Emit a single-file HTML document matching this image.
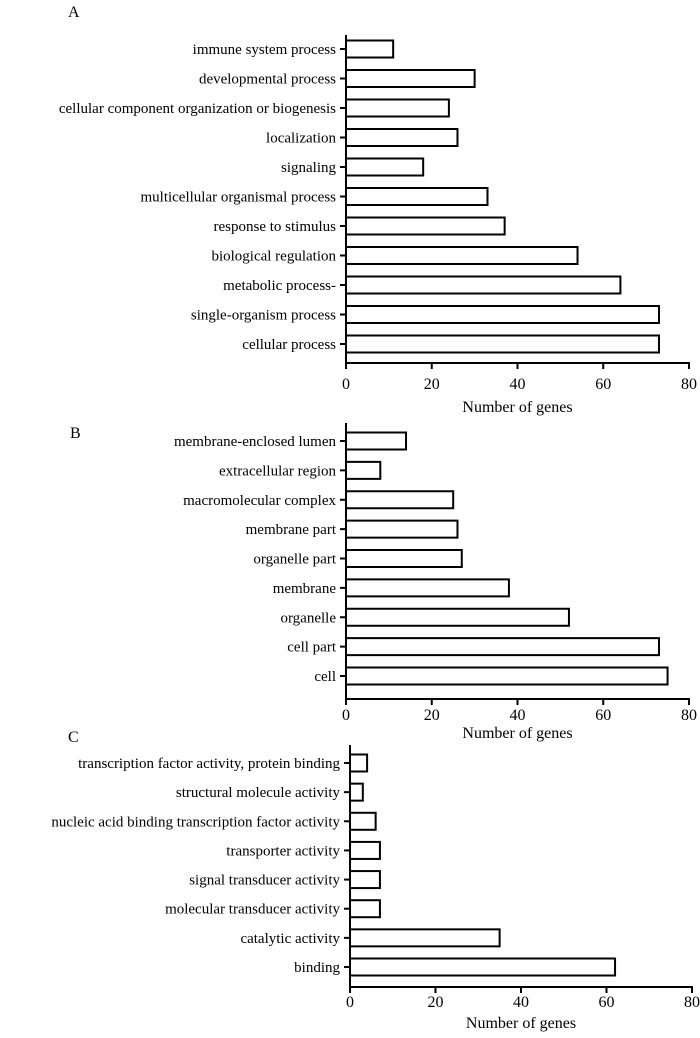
<!DOCTYPE html>
<html><head><meta charset="utf-8"><style>
html,body{margin:0;padding:0;background:#fff;}
svg text{font-family:"Liberation Serif",serif;fill:#000;}
</style></head><body>
<svg id="c" width="700" height="1033" viewBox="0 0 700 1033" xmlns="http://www.w3.org/2000/svg"></svg>
<script>
const catsA=["immune system process","developmental process","cellular component organization or biogenesis","localization","signaling","multicellular organismal process","response to stimulus","biological regulation","metabolic process-","single-organism process","cellular process"];
const valsA=[11,30,24,26,18,33,37,54,64,73,73];
const catsB=["membrane-enclosed lumen","extracellular region","macromolecular complex","membrane part","organelle part","membrane","organelle","cell part","cell"];
const valsB=[14,8,25,26,27,38,52,73,75];
const catsC=["transcription factor activity, protein binding","structural molecule activity","nucleic acid binding transcription factor activity","transporter activity","signal transducer activity","molecular transducer activity","catalytic activity","binding"];
const valsC=[4,3,6,7,7,7,35,62];
const ticks=[0,20,40,60,80];
const NS="http://www.w3.org/2000/svg";
const svg=document.getElementById('c');
function mk(t,a,p){const e=document.createElementNS(NS,t);for(const k in a)e.setAttribute(k,a[k]);(p||svg).appendChild(e);return e;}
function panel(id,letter,lx,ly,cats,vals,x0,x1,top,firstC,lastC,axisY,tickLab,titleY){
  const g=mk('g',{});
  
  
  const sx=v=>x0+(x1-x0)*v/80;
  const step=(lastC-firstC)/(cats.length-1);
  const L=mk('text',{x:lx,y:ly,'font-size':16},g);L.textContent=letter;
  
  
  const ya=mk('line',{x1:x0,y1:top,x2:x0,y2:axisY,stroke:'#000','stroke-width':2},g);
  
  
  const xa=mk('line',{x1:x0-1,y1:axisY,x2:x1+1,y2:axisY,stroke:'#000','stroke-width':2},g);
  
  
  cats.forEach((c,i)=>{
    const cy=firstC+i*step;
    const r=mk('rect',{x:x0,y:cy-8.5,width:sx(vals[i])-x0,height:17,fill:'#fff',stroke:'#000','stroke-width':2},g);
    
    
    mk('line',{x1:x0-6,y1:cy,x2:x0,y2:cy,stroke:'#000','stroke-width':2},g);
    const t=mk('text',{x:x0-10,y:cy+5,'font-size':15,'text-anchor':'end'},g);t.textContent=c;
    
    
  });
  ticks.forEach(v=>{
    mk('line',{x1:sx(v),y1:axisY,x2:sx(v),y2:axisY+6,stroke:'#000','stroke-width':2},g);
    const t=mk('text',{x:sx(v),y:tickLab+6,'font-size':16,'text-anchor':'middle'},g);t.textContent=v;
    
    
  });
  const tt=mk('text',{x:(x0+x1)/2,y:titleY+5,'font-size':16,'text-anchor':'middle'},g);tt.textContent='Number of genes';
  
  
}
panel('a','A',68,17,catsA,valsA,346,689,35,49,344,363,383,407);
panel('b','B',70,438,catsB,valsB,346,689,423,441,676,699,714,733);
panel('c','C',68,742,catsC,valsC,350,692,745,763,967,987,1001,1023);
</script>
</body></html>
